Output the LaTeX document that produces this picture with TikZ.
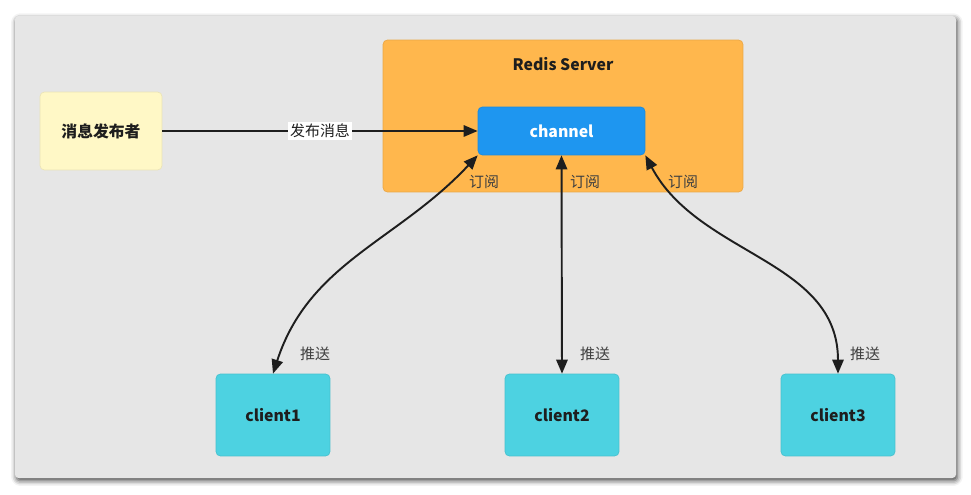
\documentclass[tikz,border=0pt]{standalone}
\usepackage{fontspec}
\setmainfont{Noto Sans CJK SC}
\usetikzlibrary{arrows.meta,shadows.blur}
\definecolor{panelgray}{HTML}{E6E6E6}
\definecolor{pubyellow}{HTML}{FFF8C6}
\definecolor{serverorange}{HTML}{FFB74D}
\definecolor{chanblue}{HTML}{1E96F0}
\definecolor{clientcyan}{HTML}{4DD2E1}
\definecolor{linedark}{HTML}{1E1E1E}
\tikzset{
  box/.style={draw=#1!92!black, fill=#1, rounded corners=2.5pt, line width=0.4pt,
    font=\fontsize{9}{11}\selectfont\bfseries, text=linedark},
  conn/.style={draw=linedark, line width=1.1pt,
    arrows={-Triangle[length=8pt,width=6.5pt]}},
  twoway/.style={conn, arrows={Triangle[length=8pt,width=6.5pt]-Triangle[length=8pt,width=6.5pt]}},
  lbl/.style={font=\fontsize{8.5}{10}\selectfont, text=linedark!85, inner sep=1pt}
}
\begin{document}
\begin{tikzpicture}[x=0.02cm,y=0.02cm]
		\useasboundingbox (0,0) rectangle (971,494);
		% panel
		\fill[panelgray, rounded corners=2pt,
		  blur shadow={shadow xshift=0.8pt, shadow yshift=-1.5pt, shadow blur radius=3pt, shadow opacity=75}]
		  (15,16) rectangle (956,478);
		%
		\node[box=pubyellow, minimum width=2.44cm, minimum height=1.56cm] (pub) at (101,363) {消息发布者};
		\node[box=serverorange, minimum width=7.2cm, minimum height=3.04cm] (server) at (563,378) {};
		\node[font=\fontsize{9}{11}\selectfont\bfseries, text=linedark] (servertitle) at (563,430) {Redis Server};
		\node[box=chanblue, text=white, minimum width=3.34cm, minimum height=0.96cm] (channel) at (561.5,363) {channel};
		%
		\node[box=clientcyan, minimum width=2.28cm, minimum height=1.64cm] (client1) at (273,79) {client1};
		\node[box=clientcyan, minimum width=2.28cm, minimum height=1.64cm] (client2) at (562,79) {client2};
		\node[box=clientcyan, minimum width=2.28cm, minimum height=1.64cm] (client3) at (838,79) {client3};
		%
		\draw[conn] (pub) -- node[lbl, fill=white, text=linedark] (publish) {发布消息} (channel);
		\draw[twoway] (channel.south west) to[out=-133, in=72] (client1.north);
		\draw[twoway] (channel.south) -- (client2.north);
		\draw[twoway] (channel.south east) to[out=-62, in=90] (client3.north);
		%
		\node[lbl] (sub1) at (484,312) {订阅};
		\node[lbl] (sub2) at (585,312) {订阅};
		\node[lbl] (sub3) at (683,312) {订阅};
		\node[lbl] (push1) at (315,140) {推送};
		\node[lbl] (push2) at (595,140) {推送};
		\node[lbl] (push3) at (865,140) {推送};
	\end{tikzpicture}
\end{document}
